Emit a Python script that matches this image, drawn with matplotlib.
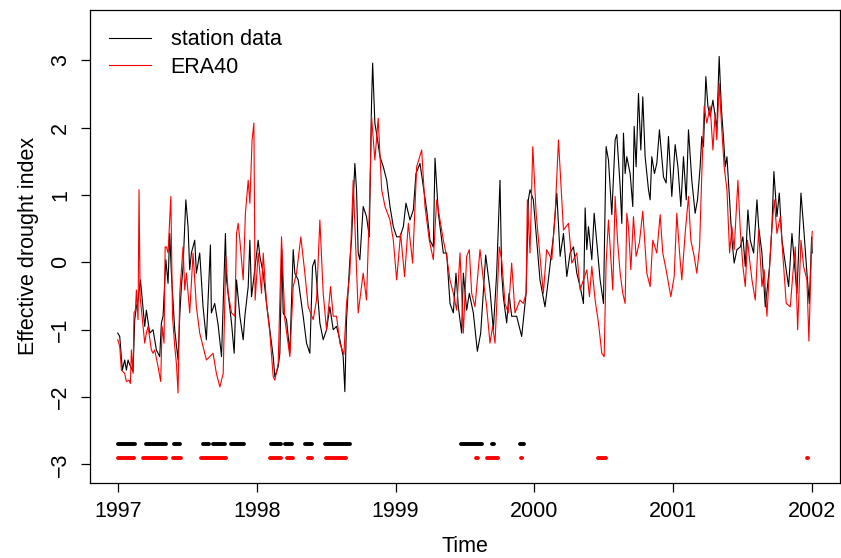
import matplotlib
matplotlib.use('Agg')
import matplotlib.pyplot as plt

plt.rcParams['font.family'] = ['Liberation Sans', 'DejaVu Sans']

# station data (black) as (year, index)
st_t = [1997.000, 1997.014, 1997.033, 1997.050, 1997.062, 1997.074, 1997.086, 1997.110,
        1997.122, 1997.134, 1997.146, 1997.163, 1997.194, 1997.206, 1997.218, 1997.230,
        1997.254, 1997.278, 1997.302, 1997.314, 1997.326, 1997.346, 1997.362, 1997.374,
        1997.386, 1997.410, 1997.434, 1997.446, 1997.458, 1997.470, 1997.490, 1997.506,
        1997.518, 1997.530, 1997.554, 1997.566, 1997.590, 1997.614, 1997.638, 1997.667,
        1997.674, 1997.698, 1997.722, 1997.747, 1997.775, 1997.783, 1997.819, 1997.838,
        1997.855, 1997.879, 1997.903, 1997.915, 1997.939, 1997.951, 1997.963, 1997.975,
        1998.011, 1998.023, 1998.047, 1998.071, 1998.095, 1998.119, 1998.131, 1998.155,
        1998.167, 1998.181, 1998.191, 1998.215, 1998.239, 1998.263, 1998.275, 1998.299,
        1998.335, 1998.359, 1998.383, 1998.402, 1998.419, 1998.431, 1998.455, 1998.479,
        1998.503, 1998.527, 1998.551, 1998.575, 1998.599, 1998.623, 1998.635, 1998.647,
        1998.671, 1998.683, 1998.707, 1998.719, 1998.731, 1998.743, 1998.767, 1998.791,
        1998.811, 1998.827, 1998.835, 1998.851, 1998.863, 1998.888, 1998.912, 1998.936,
        1998.960, 1998.984, 1999.008, 1999.032, 1999.056, 1999.075, 1999.104, 1999.128,
        1999.147, 1999.176, 1999.200, 1999.224, 1999.248, 1999.272, 1999.284, 1999.308,
        1999.344, 1999.368, 1999.392, 1999.416, 1999.435, 1999.452, 1999.476, 1999.488,
        1999.512, 1999.531, 1999.560, 1999.589, 1999.613, 1999.649, 1999.680, 1999.704,
        1999.728, 1999.752, 1999.764, 1999.776, 1999.800, 1999.817, 1999.836, 1999.872,
        1999.908, 1999.940, 1999.956, 1999.968, 1999.992, 2000.016, 2000.040, 2000.076,
        2000.100, 2000.136, 2000.161, 2000.185, 2000.209, 2000.233, 2000.257, 2000.281,
        2000.305, 2000.329, 2000.353, 2000.365, 2000.377, 2000.389, 2000.413, 2000.430,
        2000.449, 2000.473, 2000.497, 2000.516, 2000.533, 2000.557, 2000.581, 2000.593,
        2000.617, 2000.629, 2000.641, 2000.653, 2000.665, 2000.689, 2000.708, 2000.718,
        2000.732, 2000.749, 2000.766, 2000.780, 2000.797, 2000.821, 2000.833, 2000.845,
        2000.864, 2000.881, 2000.900, 2000.929, 2000.948, 2000.965, 2000.989, 2001.013,
        2001.033, 2001.054, 2001.073, 2001.093, 2001.109, 2001.133, 2001.157, 2001.174,
        2001.193, 2001.205, 2001.217, 2001.234, 2001.249, 2001.265, 2001.285, 2001.301,
        2001.313, 2001.330, 2001.345, 2001.362, 2001.374, 2001.386, 2001.405, 2001.422,
        2001.438, 2001.458, 2001.482, 2001.501, 2001.518, 2001.537, 2001.554, 2001.578,
        2001.602, 2001.614, 2001.638, 2001.662, 2001.693, 2001.710, 2001.724, 2001.746,
        2001.763, 2001.782, 2001.806, 2001.830, 2001.854, 2001.878, 2001.890, 2001.919,
        2001.938, 2001.962, 2001.979, 2001.996, 2002.000]
st_v = [-1.05, -1.10, -1.60, -1.45, -1.60, -1.45, -1.52, -1.62,
        -0.85, -0.66, -0.56, -0.26, -0.95, -0.71, -0.88, -1.05,
        -1.00, -1.30, -1.40, -0.90, -0.80, 0.04, -0.31, 0.43,
        -0.16, -1.00, -1.45, -0.80, -0.36, -0.06, 0.93, 0.53,
        -0.11, 0.14, 0.33, -0.16, 0.14, -0.66, -1.15, 0.26,
        -0.75, -0.61, -0.92, -1.40, 0.43, -0.26, -0.90, -1.35,
        -0.26, -0.80, -1.15, -0.80, -0.36, 0.33, -0.51, -0.31,
        0.33, 0.09, -0.16, -0.61, -1.00, -1.40, -1.70, -1.55,
        -1.35, 0.19, -0.75, -0.85, -1.35, 0.19, -0.16, -0.26,
        -0.80, -1.20, -1.35, -0.06, 0.04, -0.26, -0.90, -1.15,
        -1.00, -0.66, -1.00, -0.95, -1.15, -1.40, -1.92, -0.85,
        0.04, 0.33, 1.47, 1.08, 0.14, 0.04, 0.83, 0.68,
        0.38, 2.36, 2.96, 2.07, 1.92, 1.57, 1.42, 1.22,
        0.83, 0.53, 0.38, 0.38, 0.53, 0.88, 0.63, 0.78,
        1.32, 1.47, 1.13, 0.78, 0.33, 0.23, 1.55, 0.73,
        0.14, 0.14, -0.61, -0.75, -0.16, -0.66, -1.05, -0.16,
        -0.71, -0.46, -0.75, -1.32, -1.05, 0.11, -0.41, -1.00,
        -0.16, 1.22, -0.16, -0.51, -0.90, -0.46, -0.80, -0.80,
        -1.10, -0.46, 0.93, 1.08, 0.93, 0.33, -0.26, -0.66,
        -0.26, 0.38, 1.03, 0.09, 0.43, -0.21, 0.14, 0.23,
        -0.16, -0.36, -0.61, 0.81, 0.19, 0.53, 0.04, 0.73,
        0.30, -0.26, -0.61, 1.72, 1.52, 0.71, 1.82, 1.90,
        1.13, 0.58, 1.92, 1.32, 1.57, 1.32, 0.83, 2.02,
        1.42, 2.51, 1.67, 2.46, 1.57, 1.08, 0.93, 1.57,
        1.32, 1.47, 1.97, 1.27, 1.18, 1.87, 0.98, 1.75,
        1.42, 0.83, 1.57, 0.93, 1.97, 1.22, 0.73, 0.93,
        1.42, 1.87, 1.72, 2.76, 2.32, 2.17, 2.41, 2.17,
        1.97, 3.06, 2.32, 1.82, 1.42, 1.57, 0.93, 0.33,
        -0.01, 0.19, 0.23, 0.38, -0.06, 0.78, 0.33, 0.14,
        0.93, 0.53, 0.14, -0.66, -0.06, 0.53, 1.35, 0.68,
        1.03, 0.33, -0.01, -0.36, 0.43, -0.16, -0.46, 1.03,
        0.53, -0.16, -0.61, 0.38, 0.14]

# ERA40 (red)
era_t = [1997.000, 1997.014, 1997.026, 1997.050, 1997.062, 1997.081, 1997.091, 1997.098,
         1997.110, 1997.117, 1997.127, 1997.134, 1997.146, 1997.153, 1997.161, 1997.177,
         1997.194, 1997.206, 1997.218, 1997.242, 1997.254, 1997.266, 1997.290, 1997.309,
         1997.319, 1997.333, 1997.341, 1997.350, 1997.362, 1997.382, 1997.394, 1997.410,
         1997.422, 1997.434, 1997.446, 1997.470, 1997.482, 1997.494, 1997.518, 1997.542,
         1997.566, 1997.590, 1997.638, 1997.662, 1997.686, 1997.710, 1997.735, 1997.759,
         1997.778, 1997.795, 1997.819, 1997.843, 1997.855, 1997.867, 1997.879, 1997.903,
         1997.919, 1997.939, 1997.951, 1997.967, 1997.980, 1997.989, 1998.011, 1998.035,
         1998.047, 1998.071, 1998.095, 1998.119, 1998.131, 1998.155, 1998.179, 1998.203,
         1998.239, 1998.263, 1998.287, 1998.318, 1998.347, 1998.371, 1998.407, 1998.431,
         1998.455, 1998.479, 1998.503, 1998.532, 1998.551, 1998.575, 1998.599, 1998.628,
         1998.647, 1998.671, 1998.695, 1998.731, 1998.767, 1998.791, 1998.815, 1998.827,
         1998.851, 1998.875, 1998.900, 1998.924, 1998.960, 1998.984, 1999.008, 1999.036,
         1999.065, 1999.092, 1999.123, 1999.152, 1999.188, 1999.212, 1999.243, 1999.272,
         1999.296, 1999.320, 1999.344, 1999.368, 1999.392, 1999.416, 1999.440, 1999.464,
         1999.488, 1999.512, 1999.531, 1999.548, 1999.572, 1999.608, 1999.632, 1999.656,
         1999.680, 1999.699, 1999.716, 1999.747, 1999.764, 1999.788, 1999.812, 1999.836,
         1999.860, 1999.896, 1999.920, 1999.940, 1999.949, 1999.968, 1999.988, 2000.012,
         2000.040, 2000.064, 2000.088, 2000.125, 2000.149, 2000.173, 2000.189, 2000.209,
         2000.245, 2000.269, 2000.305, 2000.329, 2000.353, 2000.377, 2000.396, 2000.413,
         2000.437, 2000.461, 2000.485, 2000.502, 2000.516, 2000.533, 2000.564, 2000.581,
         2000.598, 2000.617, 2000.636, 2000.653, 2000.665, 2000.677, 2000.694, 2000.713,
         2000.732, 2000.756, 2000.780, 2000.809, 2000.833, 2000.852, 2000.881, 2000.905,
         2000.924, 2000.948, 2000.982, 2001.006, 2001.025, 2001.045, 2001.061, 2001.085,
         2001.109, 2001.126, 2001.150, 2001.169, 2001.189, 2001.205, 2001.222, 2001.241,
         2001.265, 2001.285, 2001.301, 2001.313, 2001.330, 2001.349, 2001.366, 2001.386,
         2001.405, 2001.422, 2001.438, 2001.465, 2001.482, 2001.501, 2001.518, 2001.534,
         2001.549, 2001.566, 2001.590, 2001.614, 2001.638, 2001.654, 2001.674, 2001.693,
         2001.710, 2001.727, 2001.746, 2001.770, 2001.789, 2001.813, 2001.842, 2001.861,
         2001.878, 2001.895, 2001.919, 2001.938, 2001.962, 2001.976, 2001.993, 2002.000]
era_v = [-1.15, -1.25, -1.60, -1.65, -1.77, -1.75, -1.80, -1.30,
         -1.65, -0.75, -0.71, -0.41, -0.85, 1.08, -0.51, -0.85,
         -1.20, -1.05, -0.95, -1.30, -1.35, -1.30, -1.55, -1.77,
         -0.95, -1.20, 0.23, 0.23, 0.14, 0.98, -0.80, -1.25,
         -1.50, -1.94, -0.46, 0.23, -0.41, -0.16, -0.75, 0.14,
         -0.66, -1.05, -1.45, -1.40, -1.35, -1.65, -1.85, -1.65,
         0.09, -0.46, -0.75, -0.80, 0.43, 0.58, 0.33, -0.26,
         0.73, 1.22, 0.88, 1.82, 2.07, -0.56, 0.14, -0.46,
         0.14, -0.61, -1.05, -1.70, -1.75, -1.50, 0.38, -0.85,
         -1.40, -0.36, -0.16, 0.38, -0.16, -0.66, -0.85, -0.56,
         0.63, -0.46, -1.00, -0.36, -0.80, -0.80, -1.20, -1.37,
         -0.61, -0.16, 1.22, -0.75, -0.16, -0.56, 1.03, 2.17,
         1.52, 2.14, 1.08, 0.83, 0.63, 0.33, -0.26, 0.43,
         -0.21, 0.58, -0.01, 1.42, 1.67, 0.83, 0.33, 0.04,
         0.93, 0.63, 0.33, 0.09, -0.26, -0.46, -0.71, 0.14,
         -1.05, 0.09, 0.19, -0.46, -0.66, 0.19, -0.26, -0.66,
         -1.20, -0.95, -1.20, 0.23, 0.04, -0.61, -0.75, -0.01,
         -0.75, -0.56, -0.61, -0.46, 0.93, 0.14, 1.72, 0.73,
         0.09, -0.46, 0.19, 0.04, 0.73, 1.82, 1.22, 0.48,
         0.58, -0.01, 0.14, -0.41, -0.26, -0.11, -0.51, -0.06,
         -0.56, -0.90, -1.35, -1.40, -0.01, 0.63, -0.41, 0.98,
         0.33, -0.16, -0.46, -0.61, 0.73, 0.53, -0.11, 0.68,
         0.09, 0.30, 0.76, -0.16, -0.36, 0.33, 0.14, 0.71,
         0.14, -0.11, -0.51, -0.21, 0.73, 0.14, -0.26, 0.43,
         0.98, 0.33, 0.09, -0.16, 0.23, 1.32, 2.32, 2.07,
         2.32, 1.67, 2.22, 1.82, 2.66, 1.97, 1.42, 1.08,
         0.14, 0.53, 0.19, 1.22, 0.48, -0.06, -0.36, 0.33,
         0.04, -0.26, -0.56, 0.48, -0.36, -0.11, -0.80, -0.06,
         0.53, 0.93, 0.43, 0.68, 0.09, -0.61, -0.66, -0.16,
         0.23, -1.00, 0.33, -0.06, -0.26, -1.17, 0.09, 0.46]

# drought periods marked along the bottom (start, end in years)
st_dry_start = [1997.000, 1997.200, 1997.403, 1997.617, 1997.687, 1997.814, 1998.100,
                1998.205, 1998.349, 1998.489, 1999.473, 1999.695, 1999.898]
st_dry_end = [1997.122, 1997.344, 1997.447, 1997.656, 1997.773, 1997.910, 1998.174,
              1998.256, 1998.398, 1998.671, 1999.624, 1999.711, 1999.925]
era_dry_start = [1997.000, 1997.180, 1997.394, 1997.600, 1998.095, 1998.218, 1998.371,
                 1998.501, 1999.582, 1999.661, 1999.905, 2000.460, 2001.965]
era_dry_end = [1997.120, 1997.344, 1997.452, 1997.778, 1998.174, 1998.259, 1998.400,
               1998.643, 1999.590, 1999.736, 1999.913, 2000.516, 2001.973]
st_dry_level = -2.7
era_dry_level = -2.9

fig = plt.figure(figsize=(8.41, 5.58), dpi=100)
ax = fig.add_axes([90 / 841, 75.5 / 558, 750 / 841, 472.5 / 558])

ax.plot(st_t, st_v, color='black', lw=0.8, label='station data')
ax.plot(era_t, era_v, color='red', lw=0.8, label='ERA40')
ax.hlines([st_dry_level] * len(st_dry_start), st_dry_start, st_dry_end,
          color='black', lw=2.8, capstyle='round')
ax.hlines([era_dry_level] * len(era_dry_start), era_dry_start, era_dry_end,
          color='red', lw=2.8, capstyle='round')

ax.set_xlim(1996.8, 2002.2)
ax.set_ylim(-3.27, 3.75)
ax.set_xticks([1997, 1998, 1999, 2000, 2001, 2002])
ax.set_yticks([-3, -2, -1, 0, 1, 2, 3])
ax.tick_params(labelsize=15.5, length=6.5, width=0.9, pad=7)
for lab in ax.get_yticklabels():
    lab.set_rotation(90)
    lab.set_va('center')
for sp in ax.spines.values():
    sp.set_linewidth(0.9)

ax.set_xlabel('Time', fontsize=15.5, labelpad=10)
ax.set_ylabel('Effective drought index', fontsize=15.5, labelpad=8)

ax.legend(loc='upper left', frameon=False, fontsize=15.5, handlelength=1.95,
          handletextpad=0.9, labelspacing=0.3, borderpad=0.5, borderaxespad=0.4)

fig.savefig('out.png', dpi=100)
